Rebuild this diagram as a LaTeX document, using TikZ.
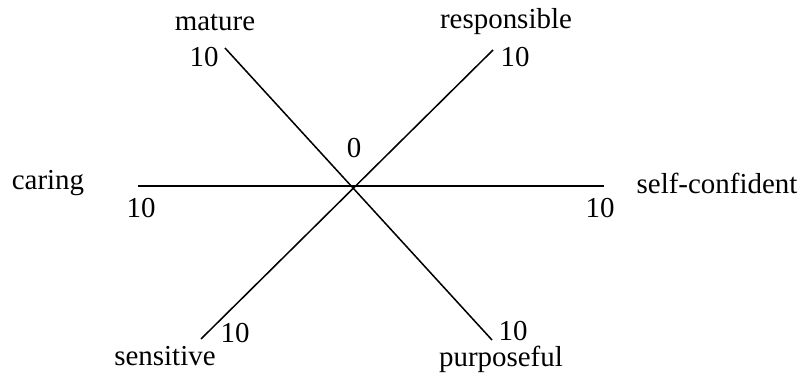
\documentclass[tikz,border=0pt]{standalone}
\usepackage{fontspec}
\setmainfont{Liberation Serif}
\usetikzlibrary{positioning}

\begin{document}
\begin{tikzpicture}[x=0.03cm, y=-0.03cm,
    axis/.style={draw=black, line width=1.3pt},
    lbl/.style={inner sep=0pt, font=\fontsize{24.7}{28}\selectfont}]
    \useasboundingbox (0,0) rectangle (803,374);

    % axis ends
    \coordinate (o) at (352,187);
    \coordinate (mat) at (225,48);
    \coordinate (pur) at (492,340);
    \coordinate (res) at (493,50);
    \coordinate (sen) at (201,339);
    \coordinate (car) at (138,186);
    \coordinate (sel) at (604,186);

    % axes
    \draw[axis] (mat) -- (pur);
    \draw[axis] (res) -- (sen);
    \draw[axis] (car) -- (sel);

    % trait names
    \node[lbl] (tmat) at (215,22) {mature};
    \node[lbl] (tres) at (506,22) {responsible};
    \node[lbl] (tcar) at (48,183) {caring};
    \node[lbl] (tsel) at (717,183) {self-confident};
    \node[lbl] (tsen) at (165,356) {sensitive};
    \node[lbl] (tpur) at (501,359.5) {purposeful};

    % scale values
    \node[lbl] (zero) at (354,148) {0};
    \node[lbl] (vmat) at (204,57) {10};
    \node[lbl] (vres) at (515,57) {10};
    \node[lbl] (vcar) at (141,208) {10};
    \node[lbl] (vsel) at (600,208) {10};
    \node[lbl] (vsen) at (235,333) {10};
    \node[lbl] (vpur) at (513,331) {10};
\end{tikzpicture}
\end{document}
